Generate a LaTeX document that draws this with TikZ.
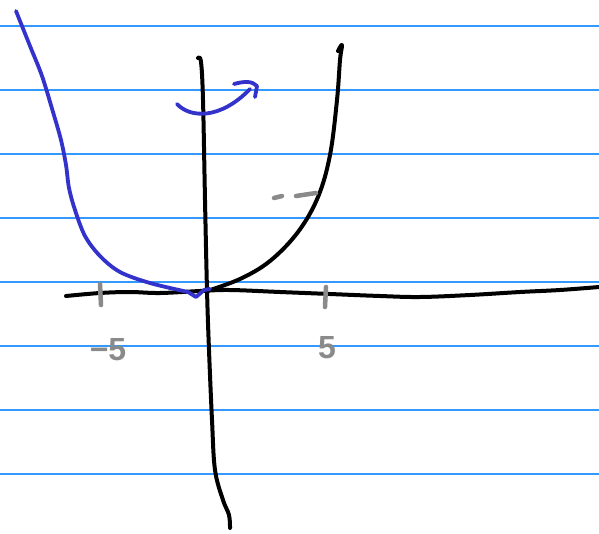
\documentclass[tikz,border=0pt]{standalone}
\usepackage{fontspec}
\setmainfont{Liberation Sans}
\begin{document}
\begin{tikzpicture}[x=1pt,y=-1pt,
  rule/.style={draw=ruleblue,line width=1.1pt},
  ink/.style={line width=4pt,line cap=round,line join=round},
  blackink/.style={ink,draw=black},
  blueink/.style={ink,draw=penblue,line width=3.8pt},
  grayink/.style={ink,draw=pengray,line width=4.5pt},
  graytext/.style={text=pengray,font=\bfseries\fontsize{32}{32}\selectfont,inner sep=0pt}]
\definecolor{ruleblue}{RGB}{51,153,255}
\definecolor{penblue}{RGB}{51,51,204}
\definecolor{pengray}{RGB}{138,138,138}
\useasboundingbox (0,0) rectangle (599,533);
\fill[white] (0,0) rectangle (599,533);
% ruled lines
\foreach \yy in {26,90,154,218,282,346,410,474}
  \draw[rule] (0,\yy) -- (599,\yy);
% x-axis
\draw[blackink] plot[smooth,tension=0.6] coordinates {(66,296) (100,293) (130,292) (160,293) (200,291) (230,290) (280,292) (330,294) (380,296) (420,297) (470,295) (520,292) (560,290) (599,287)};
% y-axis
\draw[blackink] plot[smooth,tension=0.6] coordinates {(198,58) (201,62) (203,100) (205,200) (207,290) (209,350) (212,420) (215,470) (223,500) (229,515) (230,528)};
% black curve
\draw[blackink] plot[smooth,tension=0.6] coordinates {(207,291) (240,279) (270,261) (298,232) (318,197) (330,155) (337,100) (340,60) (342,45) (338,51)};
% blue curve
\draw[blueink] plot[smooth,tension=0.55] coordinates {(16,11) (30,46) (42,76) (53,112) (61,140) (66,165) (69,188) (75,210) (85,236) (100,256) (120,272) (150,283) (188,292)};
\draw[blueink] (188,292) -- (196,297) -- (204,290) -- (210,289);
% blue rotation arrow
\draw[blueink] (177,104) .. controls (190,118) and (220,120) .. (250,89);
\draw[blueink] (234,84) .. controls (245,81) and (252,81) .. (257,86) -- (255,97);
% ticks
\draw[grayink] (100,284) -- (101,305);
\draw[grayink] (326,287) -- (325,307);
% dashes near curve
\draw[grayink] (274,198) -- (282,196);
\draw[grayink] (296,196) -- (316,193);
% labels
\node[graytext] (lm5) at (108,350) {−5};
\node[graytext] (lp5) at (327,348) {5};
\end{tikzpicture}
\end{document}
